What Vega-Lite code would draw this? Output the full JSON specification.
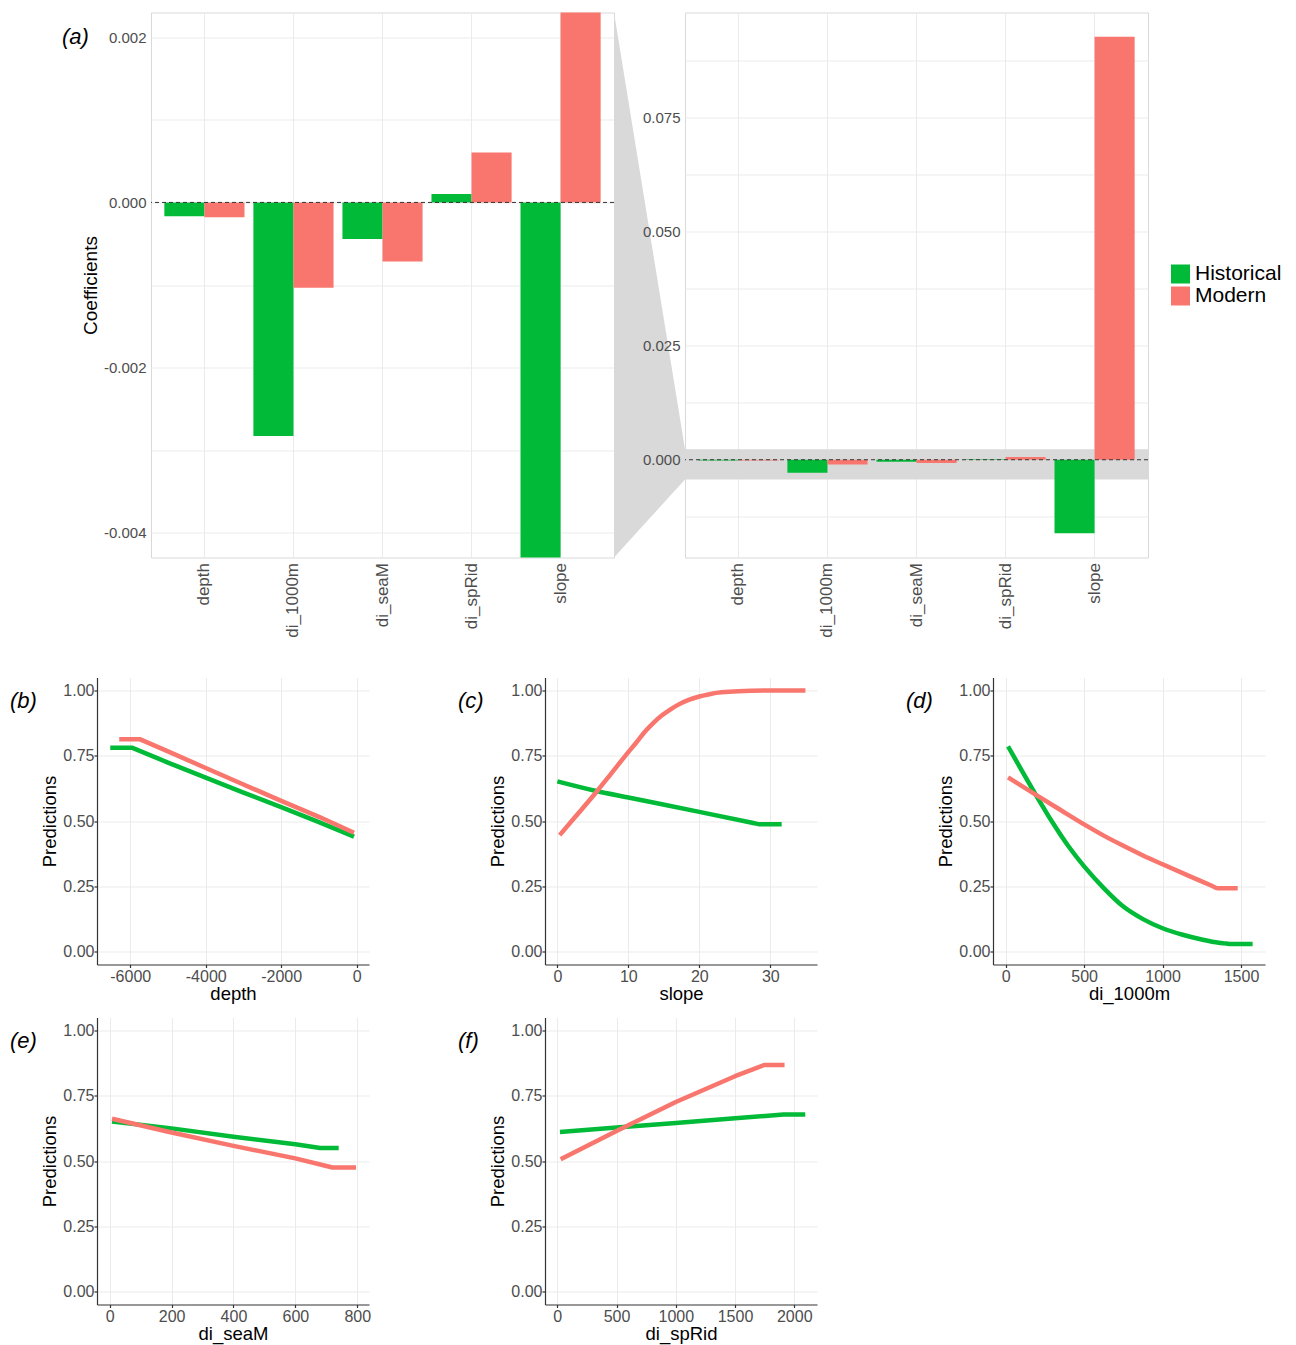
{
  "$schema": "https://vega.github.io/schema/vega-lite/v6.json",
  "padding": {"left": 10, "top": 11.5, "right": 5, "bottom": 5},
  "datasets": {
    "coef": [
      {"var": "depth", "group": "Historical", "coef": -0.000166},
      {"var": "depth", "group": "Modern", "coef": -0.000181},
      {"var": "di_1000m", "group": "Historical", "coef": -0.002828},
      {"var": "di_1000m", "group": "Modern", "coef": -0.001033},
      {"var": "di_seaM", "group": "Historical", "coef": -0.000442},
      {"var": "di_seaM", "group": "Modern", "coef": -0.000716},
      {"var": "di_spRid", "group": "Historical", "coef": 0.000101},
      {"var": "di_spRid", "group": "Modern", "coef": 0.000604},
      {"var": "slope", "group": "Historical", "coef": -0.01607},
      {"var": "slope", "group": "Modern", "coef": 0.0926}
    ],
    "window": [{"lo": -0.0043, "hi": 0.0023}],
    "connector": [
      {"pos": 0, "lo": -0.0214, "hi": 0.0979},
      {"pos": 1, "lo": -0.0043, "hi": 0.0023}
    ],
    "p_depth": [
      {"x": -6529, "pred": 0.781, "group": "Historical"},
      {"x": -5956, "pred": 0.781, "group": "Historical"},
      {"x": -5000, "pred": 0.724, "group": "Historical"},
      {"x": -4000, "pred": 0.666, "group": "Historical"},
      {"x": -3000, "pred": 0.609, "group": "Historical"},
      {"x": -2000, "pred": 0.553, "group": "Historical"},
      {"x": -1000, "pred": 0.496, "group": "Historical"},
      {"x": -71, "pred": 0.44, "group": "Historical"},
      {"x": -6291, "pred": 0.813, "group": "Modern"},
      {"x": -5735, "pred": 0.813, "group": "Modern"},
      {"x": -5000, "pred": 0.767, "group": "Modern"},
      {"x": -4000, "pred": 0.703, "group": "Modern"},
      {"x": -3000, "pred": 0.64, "group": "Modern"},
      {"x": -2000, "pred": 0.577, "group": "Modern"},
      {"x": -1000, "pred": 0.516, "group": "Modern"},
      {"x": -71, "pred": 0.455, "group": "Modern"}
    ],
    "p_slope": [
      {"x": 0, "pred": 0.652, "group": "Historical"},
      {"x": 5.5, "pred": 0.615, "group": "Historical"},
      {"x": 10, "pred": 0.59, "group": "Historical"},
      {"x": 20, "pred": 0.535, "group": "Historical"},
      {"x": 27.6, "pred": 0.4925, "group": "Historical"},
      {"x": 28.4, "pred": 0.488, "group": "Historical"},
      {"x": 31.6, "pred": 0.488, "group": "Historical"},
      {"x": 0.33, "pred": 0.446, "group": "Modern"},
      {"x": 2.5, "pred": 0.515, "group": "Modern"},
      {"x": 5.5, "pred": 0.611, "group": "Modern"},
      {"x": 7.5, "pred": 0.679, "group": "Modern"},
      {"x": 10, "pred": 0.764, "group": "Modern"},
      {"x": 11.1, "pred": 0.8, "group": "Modern"},
      {"x": 12.3, "pred": 0.841, "group": "Modern"},
      {"x": 13.5, "pred": 0.875, "group": "Modern"},
      {"x": 14.7, "pred": 0.904, "group": "Modern"},
      {"x": 15.9, "pred": 0.927, "group": "Modern"},
      {"x": 17.05, "pred": 0.946, "group": "Modern"},
      {"x": 18.5, "pred": 0.964, "group": "Modern"},
      {"x": 20, "pred": 0.977, "group": "Modern"},
      {"x": 21.3, "pred": 0.985, "group": "Modern"},
      {"x": 22.7, "pred": 0.992, "group": "Modern"},
      {"x": 25.5, "pred": 0.997, "group": "Modern"},
      {"x": 30, "pred": 1.0, "group": "Modern"},
      {"x": 34.95, "pred": 1.0, "group": "Modern"}
    ],
    "p_di1000": [
      {"x": 15, "pred": 0.786, "group": "Historical"},
      {"x": 100, "pred": 0.696, "group": "Historical"},
      {"x": 206, "pred": 0.586, "group": "Historical"},
      {"x": 300, "pred": 0.493, "group": "Historical"},
      {"x": 400, "pred": 0.403, "group": "Historical"},
      {"x": 500, "pred": 0.326, "group": "Historical"},
      {"x": 625, "pred": 0.243, "group": "Historical"},
      {"x": 750, "pred": 0.172, "group": "Historical"},
      {"x": 875, "pred": 0.124, "group": "Historical"},
      {"x": 1000, "pred": 0.089, "group": "Historical"},
      {"x": 1128, "pred": 0.064, "group": "Historical"},
      {"x": 1256, "pred": 0.045, "group": "Historical"},
      {"x": 1340, "pred": 0.035, "group": "Historical"},
      {"x": 1395, "pred": 0.031, "group": "Historical"},
      {"x": 1426, "pred": 0.029, "group": "Historical"},
      {"x": 1574, "pred": 0.029, "group": "Historical"},
      {"x": 15, "pred": 0.667, "group": "Modern"},
      {"x": 206, "pred": 0.595, "group": "Modern"},
      {"x": 350, "pred": 0.542, "group": "Modern"},
      {"x": 500, "pred": 0.487, "group": "Modern"},
      {"x": 625, "pred": 0.444, "group": "Modern"},
      {"x": 750, "pred": 0.405, "group": "Modern"},
      {"x": 875, "pred": 0.368, "group": "Modern"},
      {"x": 1000, "pred": 0.334, "group": "Modern"},
      {"x": 1175, "pred": 0.288, "group": "Modern"},
      {"x": 1310, "pred": 0.253, "group": "Modern"},
      {"x": 1352, "pred": 0.242, "group": "Modern"},
      {"x": 1479, "pred": 0.242, "group": "Modern"}
    ],
    "p_seaM": [
      {"x": 7.5, "pred": 0.651, "group": "Historical"},
      {"x": 200, "pred": 0.625, "group": "Historical"},
      {"x": 400, "pred": 0.593, "group": "Historical"},
      {"x": 600, "pred": 0.564, "group": "Historical"},
      {"x": 680, "pred": 0.55, "group": "Historical"},
      {"x": 740, "pred": 0.55, "group": "Historical"},
      {"x": 7.5, "pred": 0.662, "group": "Modern"},
      {"x": 200, "pred": 0.609, "group": "Modern"},
      {"x": 400, "pred": 0.558, "group": "Modern"},
      {"x": 600, "pred": 0.51, "group": "Modern"},
      {"x": 720, "pred": 0.475, "group": "Modern"},
      {"x": 796, "pred": 0.475, "group": "Modern"}
    ],
    "p_spRid": [
      {"x": 22.5, "pred": 0.611, "group": "Historical"},
      {"x": 500, "pred": 0.628, "group": "Historical"},
      {"x": 1000, "pred": 0.646, "group": "Historical"},
      {"x": 1500, "pred": 0.664, "group": "Historical"},
      {"x": 1910, "pred": 0.678, "group": "Historical"},
      {"x": 2093, "pred": 0.678, "group": "Historical"},
      {"x": 28, "pred": 0.507, "group": "Modern"},
      {"x": 500, "pred": 0.615, "group": "Modern"},
      {"x": 1000, "pred": 0.726, "group": "Modern"},
      {"x": 1500, "pred": 0.825, "group": "Modern"},
      {"x": 1746, "pred": 0.868, "group": "Modern"},
      {"x": 1918, "pred": 0.868, "group": "Modern"}
    ]
  },
  "config": {
    "font": "Liberation Sans",
    "view": {"stroke": null},
    "title": {"fontSize": 22, "fontStyle": "italic", "fontWeight": "normal", "anchor": "start", "frame": "group", "offset": 0, "baseline": "middle", "color": "#000000", "dx": -87, "dy": 39},
    "axis": {"labelColor": "#4D4D4D", "titleColor": "#000000", "titleFontWeight": "normal", "labelFontSize": 16, "titleFontSize": 18.5, "gridColor": "#EBEBEB", "gridWidth": 1, "tickSize": 3, "tickColor": "#333333", "tickWidth": 1.2, "domainColor": "#333333", "domainWidth": 1.2},
    "axisX": {"labelPadding": 1, "titlePadding": 0},
    "axisY": {"labelPadding": 0, "titlePadding": 3},
    "line": {"strokeWidth": 4.5, "interpolate": "linear", "strokeCap": "butt", "strokeJoin": "round"}
  },
  "spacing": 39,
  "resolve": {"scale": {"color": "independent"}, "legend": {"color": "independent"}},
  "vconcat": [
    {
      "hconcat": [
        {
          "width": 54, "height": 545,
          "data": {"values": []},
          "mark": "point",
          "encoding": {}
        },
        {
          "width": 463, "height": 545,
          "title": {"text": "(a)", "dx": -89, "dy": 40},
          "view": {"stroke": "#D9D9D9"},
          "layer": [
            {
              "data": {"name": "coef"},
              "mark": {"type": "bar", "clip": true},
              "encoding": {
                "x": {"field": "var", "type": "nominal", "sort": ["depth", "di_1000m", "di_seaM", "di_spRid", "slope"], "scale": {"paddingInner": 0.1, "paddingOuter": 0.15},
                  "axis": {"title": null, "labelAngle": 270, "labelFontSize": 17, "ticks": false, "tickSize": 0, "domain": false, "labelPadding": 5, "grid": true, "bandPosition": 0.5}},
                "xOffset": {"field": "group", "type": "nominal", "scale": {"paddingInner": 0, "paddingOuter": 0}},
                "y": {"field": "coef", "type": "quantitative", "scale": {"domain": [-0.0043, 0.0023], "nice": false},
                  "axis": {"title": "Coefficients", "values": [-0.004, -0.003, -0.002, -0.001, 0, 0.001, 0.002],
                    "labelExpr": "abs(datum.value/0.002 - round(datum.value/0.002)) < 0.01 ? (datum.value < 0 ? '-' + format(-datum.value, '.3f') : format(datum.value, '.3f')) : ''",
                    "labelFontSize": 15, "ticks": false, "tickSize": 0, "domain": false, "labelPadding": 5, "titleFontSize": 19, "titlePadding": 3, "grid": true}},
                "color": {"field": "group", "type": "nominal", "scale": {"domain": ["Historical", "Modern"], "range": ["#00BA38", "#F8766D"]}, "legend": null}
              }
            },
            {
              "data": {"name": "window"},
              "mark": {"type": "rule", "strokeDash": [4, 3], "color": "#333333", "strokeWidth": 1},
              "encoding": {"y": {"datum": 0}}
            }
          ]
        },
        {
          "width": 71, "height": 545,
          "data": {"name": "connector"},
          "mark": {"type": "area", "color": "#D9D9D9", "orient": "vertical"},
          "encoding": {
            "x": {"field": "pos", "type": "quantitative", "scale": {"domain": [0, 1], "nice": false, "zero": false}, "axis": null},
            "y": {"field": "hi", "type": "quantitative", "scale": {"domain": [-0.0214, 0.0979], "nice": false, "zero": false}, "axis": null},
            "y2": {"field": "lo"}
          }
        },
        {
          "width": 463, "height": 545,
          "view": {"stroke": "#D9D9D9"},
          "layer": [
            {
              "data": {"name": "window"},
              "mark": {"type": "rect", "color": "#D9D9D9"},
              "encoding": {
                "x": {"value": 0},
                "x2": {"value": "width"},
                "y": {"field": "hi", "type": "quantitative", "scale": {"domain": [-0.0214, 0.0979], "nice": false},
                  "axis": {"title": null, "values": [-0.0125, 0, 0.0125, 0.025, 0.0375, 0.05, 0.0625, 0.075, 0.0875],
                    "labelExpr": "abs(datum.value/0.025 - round(datum.value/0.025)) < 0.01 ? (datum.value < 0 ? '-' + format(-datum.value, '.3f') : format(datum.value, '.3f')) : ''",
                    "labelFontSize": 15, "ticks": false, "tickSize": 0, "domain": false, "labelPadding": 5, "grid": true}},
                "y2": {"field": "lo"}
              }
            },
            {
              "data": {"name": "coef"},
              "mark": {"type": "bar", "clip": true},
              "encoding": {
                "x": {"field": "var", "type": "nominal", "sort": ["depth", "di_1000m", "di_seaM", "di_spRid", "slope"], "scale": {"paddingInner": 0.1, "paddingOuter": 0.15},
                  "axis": {"title": null, "labelAngle": 270, "labelFontSize": 17, "ticks": false, "tickSize": 0, "domain": false, "labelPadding": 5, "grid": true, "bandPosition": 0.5}},
                "xOffset": {"field": "group", "type": "nominal", "scale": {"paddingInner": 0, "paddingOuter": 0}},
                "y": {"field": "coef", "type": "quantitative", "scale": {"domain": [-0.0214, 0.0979], "nice": false}},
                "color": {"field": "group", "type": "nominal", "scale": {"domain": ["Historical", "Modern"], "range": ["#00BA38", "#F8766D"]},
                  "legend": {"title": null, "orient": "none", "legendX": 485, "legendY": 251, "labelFontSize": 21, "labelColor": "#000000", "labelFont": "Liberation Sans", "symbolType": "square", "symbolSize": 361, "symbolStrokeWidth": 0, "rowPadding": 0, "labelOffset": 4, "padding": 0}}
              }
            },
            {
              "data": {"name": "window"},
              "mark": {"type": "rule", "strokeDash": [4, 3], "color": "#333333", "strokeWidth": 1},
              "encoding": {"y": {"datum": 0}}
            }
          ]
        }
      ],
      "spacing": 0,
      "bounds": "flush",
      "resolve": {"scale": {"color": "independent"}, "legend": {"color": "independent"}}
    },
    {
      "spacing": 14,
      "vconcat": [
        {
          "hconcat": [
            {
              "width": 272, "height": 287,
              "title": {"text": "(b)"},
              "data": {"name": "p_depth"},
              "mark": {"type": "line"},
              "encoding": {
                "x": {"field": "x", "type": "quantitative", "title": "depth", "scale": {"domain": [-6880, 326], "nice": false, "zero": false},
                  "axis": {"values": [-6000, -4000, -2000, 0], "labelExpr": "datum.value < 0 ? '-' + format(-datum.value, 'd') : format(datum.value, 'd')"}},
                "y": {"field": "pred", "type": "quantitative", "title": "Predictions", "scale": {"domain": [-0.05, 1.05], "nice": false, "zero": false},
                  "axis": {"values": [0, 0.25, 0.5, 0.75, 1], "format": ".2f"}},
                "color": {"field": "group", "type": "nominal", "scale": {"domain": ["Historical", "Modern"], "range": ["#00BA38", "#F8766D"]}, "legend": null}
              }
            },
            {
              "width": 272, "height": 287,
              "title": {"text": "(c)"},
              "data": {"name": "p_slope"},
              "mark": {"type": "line", "interpolate": "monotone"},
              "encoding": {
                "x": {"field": "x", "type": "quantitative", "title": "slope", "scale": {"domain": [-1.74, 36.58], "nice": false, "zero": false},
                  "axis": {"values": [0, 10, 20, 30], "format": "d"}},
                "y": {"field": "pred", "type": "quantitative", "title": "Predictions", "scale": {"domain": [-0.05, 1.05], "nice": false, "zero": false},
                  "axis": {"values": [0, 0.25, 0.5, 0.75, 1], "format": ".2f"}},
                "color": {"field": "group", "type": "nominal", "scale": {"domain": ["Historical", "Modern"], "range": ["#00BA38", "#F8766D"]}, "legend": null}
              }
            },
            {
              "width": 272, "height": 287,
              "title": {"text": "(d)"},
              "data": {"name": "p_di1000"},
              "mark": {"type": "line", "interpolate": "monotone"},
              "encoding": {
                "x": {"field": "x", "type": "quantitative", "title": "di_1000m", "scale": {"domain": [-81, 1653], "nice": false, "zero": false},
                  "axis": {"values": [0, 500, 1000, 1500], "format": "d"}},
                "y": {"field": "pred", "type": "quantitative", "title": "Predictions", "scale": {"domain": [-0.05, 1.05], "nice": false, "zero": false},
                  "axis": {"values": [0, 0.25, 0.5, 0.75, 1], "format": ".2f"}},
                "color": {"field": "group", "type": "nominal", "scale": {"domain": ["Historical", "Modern"], "range": ["#00BA38", "#F8766D"]}, "legend": null}
              }
            }
          ],
          "spacing": 176,
          "bounds": "flush"
        },
        {
          "hconcat": [
            {
              "width": 272, "height": 287,
              "title": {"text": "(e)"},
              "data": {"name": "p_seaM"},
              "mark": {"type": "line"},
              "encoding": {
                "x": {"field": "x", "type": "quantitative", "title": "di_seaM", "scale": {"domain": [-41, 838], "nice": false, "zero": false},
                  "axis": {"values": [0, 200, 400, 600, 800], "format": "d"}},
                "y": {"field": "pred", "type": "quantitative", "title": "Predictions", "scale": {"domain": [-0.05, 1.05], "nice": false, "zero": false},
                  "axis": {"values": [0, 0.25, 0.5, 0.75, 1], "format": ".2f"}},
                "color": {"field": "group", "type": "nominal", "scale": {"domain": ["Historical", "Modern"], "range": ["#00BA38", "#F8766D"]}, "legend": null}
              }
            },
            {
              "width": 272, "height": 287,
              "title": {"text": "(f)"},
              "data": {"name": "p_spRid"},
              "mark": {"type": "line"},
              "encoding": {
                "x": {"field": "x", "type": "quantitative", "title": "di_spRid", "scale": {"domain": [-104, 2192], "nice": false, "zero": false},
                  "axis": {"values": [0, 500, 1000, 1500, 2000], "format": "d"}},
                "y": {"field": "pred", "type": "quantitative", "title": "Predictions", "scale": {"domain": [-0.05, 1.05], "nice": false, "zero": false},
                  "axis": {"values": [0, 0.25, 0.5, 0.75, 1], "format": ".2f"}},
                "color": {"field": "group", "type": "nominal", "scale": {"domain": ["Historical", "Modern"], "range": ["#00BA38", "#F8766D"]}, "legend": null}
              }
            }
          ],
          "spacing": 176,
          "bounds": "flush"
        }
      ]
    }
  ]
}
